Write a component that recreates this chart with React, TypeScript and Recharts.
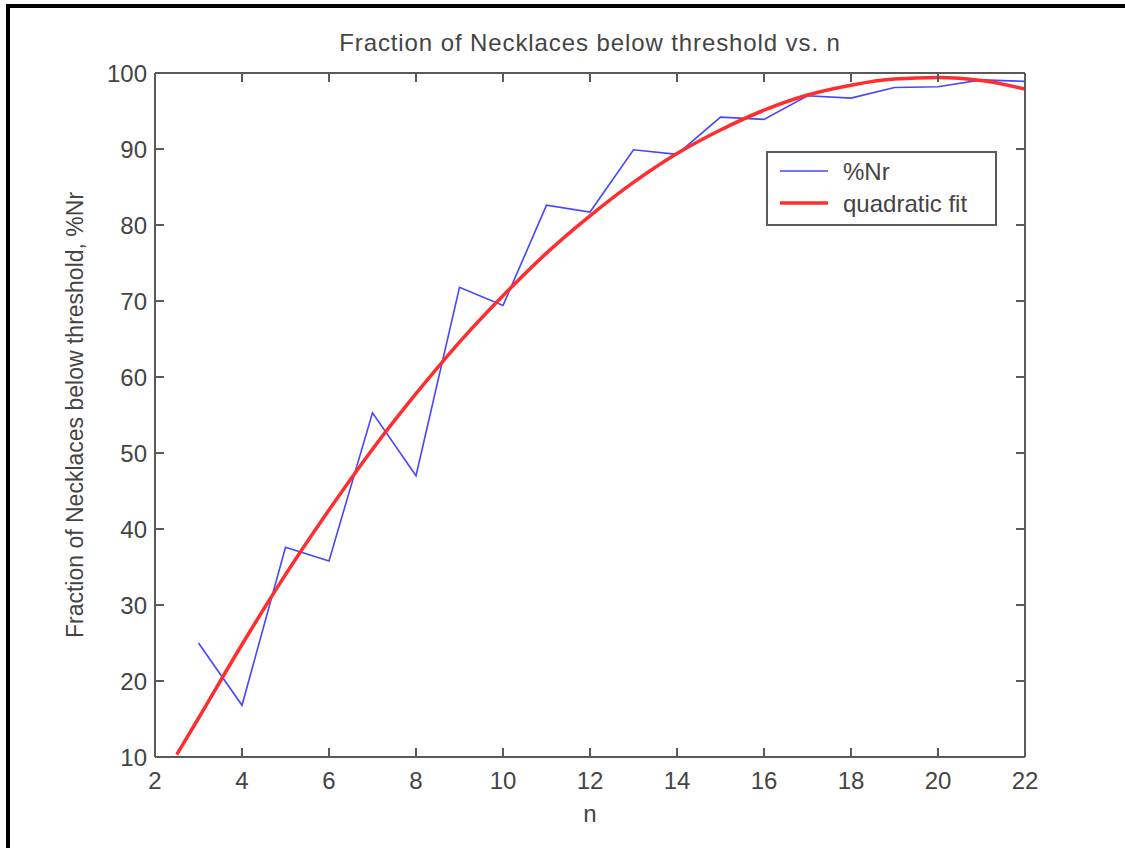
import React from "react";
import { LineChart, Line, XAxis, YAxis, Legend, Label } from "recharts";

// measured percentage of necklaces below threshold, n = 3..22
const nValues = [3, 4, 5, 6, 7, 8, 9, 10, 11, 12, 13, 14, 15, 16, 17, 18, 19, 20, 21, 22];
const pctNr = [25.0, 16.8, 37.6, 35.8, 55.3, 47.0, 71.8, 69.4, 82.6, 81.7, 89.9, 89.3, 94.2, 93.9, 97.0, 96.7, 98.1, 98.2, 99.1, 98.9];

// quadratic fit
const fitN = [2.5, 3, 4, 5, 6, 7, 8, 9, 10, 11, 12, 13, 14, 15, 16, 17, 18, 19, 20, 21, 22];
const fitPct = [10.3, 15.1, 24.8, 34.0, 42.5, 50.5, 57.8, 64.6, 70.7, 76.3, 81.2, 85.6, 89.4, 92.5, 95.1, 97.1, 98.4, 99.2, 99.4, 99.0, 97.9];

const xTicks = [2, 4, 6, 8, 10, 12, 14, 16, 18, 20, 22];
const yTicks = [10, 20, 30, 40, 50, 60, 70, 80, 90, 100];

const nrData = nValues.map((n, i) => ({ n, v: pctNr[i] }));
const fitData = fitN.map((n, i) => ({ n, v: fitPct[i] }));

const FONT = "'Liberation Sans', Arial, sans-serif";
const TEXT = "#444";
const AXIS = "#5a5a5a";
const TICK = 9;

// ticks point into the plot box, matlab style
const BottomTick = (props: any) => {
  const { x, y, payload } = props;
  return (
    <g>
      <line x1={x} y1={y} x2={x} y2={y - TICK} stroke={AXIS} strokeWidth={2} />
      <text x={x} y={y + 32} textAnchor="middle" fill={TEXT} fontSize={24} fontFamily={FONT}>
        {payload.value}
      </text>
    </g>
  );
};

const TopTick = (props: any) => {
  const { x, y } = props;
  return <line x1={x} y1={y} x2={x} y2={y + TICK} stroke={AXIS} strokeWidth={2} />;
};

const LeftTick = (props: any) => {
  const { x, y, payload } = props;
  return (
    <g>
      <line x1={x} y1={y} x2={x + TICK} y2={y} stroke={AXIS} strokeWidth={2} />
      <text x={x - 8} y={y + 9} textAnchor="end" fill={TEXT} fontSize={24} fontFamily={FONT}>
        {payload.value}
      </text>
    </g>
  );
};

const RightTick = (props: any) => {
  const { x, y } = props;
  return <line x1={x} y1={y} x2={x - TICK} y2={y} stroke={AXIS} strokeWidth={2} />;
};

const renderLegend = (props: any) => {
  const items = props.payload || [];
  return (
    <div
      style={{
        width: 231,
        height: 75,
        boxSizing: "border-box",
        border: `2px solid ${AXIS}`,
        background: "#fff",
      }}
    >
      <svg width={227} height={71} style={{ display: "block" }}>
        {items.map((entry: any, i: number) => (
          <g key={entry.value}>
            <line
              x1={12}
              x2={60}
              y1={18 + i * 32}
              y2={18 + i * 32}
              stroke={entry.color}
              strokeWidth={i === 0 ? 1.6 : 3.5}
            />
            <text x={75} y={27 + i * 32} fill={TEXT} fontSize={24} fontFamily={FONT}>
              {entry.value}
            </text>
          </g>
        ))}
      </svg>
    </div>
  );
};

export default function App() {
  return (
    <div style={{ position: "absolute", left: 0, top: 0, width: 1125, height: 848, background: "#fff" }}>
      <div
        style={{
          position: "absolute",
          left: 6,
          top: 4,
          width: 1119,
          height: 844,
          borderTop: "4px solid #000",
          borderLeft: "4px solid #000",
          boxSizing: "border-box",
        }}
      />
      <div style={{ position: "absolute", left: 0, top: 0 }}>
        <LineChart width={1125} height={848} margin={{ top: 72, right: 99, bottom: 61, left: 105 }}>
          <XAxis
            dataKey="n"
            type="number"
            domain={[2, 22]}
            allowDataOverflow
            ticks={xTicks}
            height={30}
            tickSize={0}
            tickMargin={0}
            tick={<BottomTick />}
            stroke={AXIS}
            strokeWidth={2}
          >
            <Label value="n" position="bottom" offset={18} fill={TEXT} fontSize={24} fontFamily={FONT} />
          </XAxis>
          <XAxis
            xAxisId="top"
            orientation="top"
            dataKey="n"
            type="number"
            domain={[2, 22]}
            allowDataOverflow
            ticks={xTicks}
            height={1}
            tickSize={0}
            tickMargin={0}
            tick={<TopTick />}
            stroke={AXIS}
            strokeWidth={2}
          >
            <Label
              value="Fraction of Necklaces below threshold vs. n"
              position="top"
              offset={21}
              fill={TEXT}
              fontSize={24}
              fontFamily={FONT}
              style={{ letterSpacing: 0.9 }}
            />
          </XAxis>
          <YAxis
            type="number"
            domain={[10, 100]}
            allowDataOverflow
            ticks={yTicks}
            width={50}
            tickSize={0}
            tickMargin={0}
            tick={<LeftTick />}
            stroke={AXIS}
            strokeWidth={2}
          >
            <Label
              content={(p: any) => {
                const vb = p.viewBox;
                const cx = vb.x - 30;
                const cy = vb.y + vb.height / 2;
                return (
                  <text
                    x={cx}
                    y={cy}
                    transform={`rotate(-90 ${cx} ${cy})`}
                    textAnchor="middle"
                    dominantBaseline="central"
                    fill={TEXT}
                    fontSize={23}
                    fontFamily={FONT}
                  >
                    Fraction of Necklaces below threshold, %Nr
                  </text>
                );
              }}
            />
          </YAxis>
          <YAxis
            yAxisId="right"
            orientation="right"
            type="number"
            domain={[10, 100]}
            allowDataOverflow
            ticks={yTicks}
            width={1}
            tickSize={0}
            tickMargin={0}
            tick={<RightTick />}
            stroke={AXIS}
            strokeWidth={2}
          />
          <Legend
            layout="vertical"
            align="center"
            verticalAlign="middle"
            content={renderLegend}
            wrapperStyle={{ position: "absolute", left: 766, top: 151, width: 231, height: 75 }}
          />
          <Line
            data={nrData}
            dataKey="v"
            name="%Nr"
            type="linear"
            stroke="#4646ff"
            strokeWidth={1.6}
            dot={false}
            activeDot={false}
            isAnimationActive={false}
          />
          {/* the fit shares the same scales, drawn against the top/right axes */}
          <Line
            data={fitData}
            dataKey="v"
            name="quadratic fit"
            xAxisId="top"
            yAxisId="right"
            type="monotone"
            stroke="#ff2e2e"
            strokeWidth={3.5}
            dot={false}
            activeDot={false}
            isAnimationActive={false}
          />
        </LineChart>
      </div>
    </div>
  );
}
